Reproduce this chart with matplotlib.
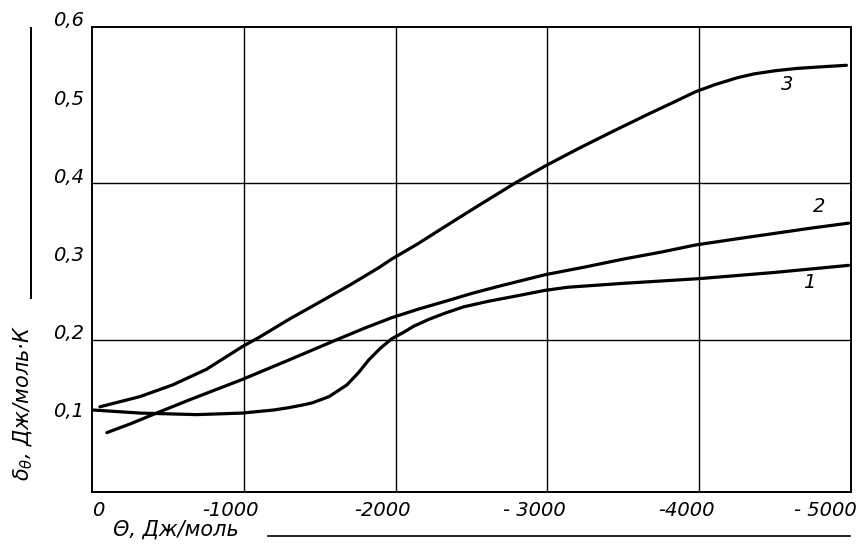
import matplotlib.pyplot as plt
from matplotlib.lines import Line2D
from matplotlib.transforms import offset_copy

# values (theta in J/mol, delta in J/(mol K))
theta_1 = [0, -315, -689, -990, -1200, -1298, -1380, -1450, -1561, -1679, -1757, -1823,
           -1900, -1974, -2050, -2118, -2220, -2328, -2450, -2610, -2800, -2984, -3134,
           -3500, -4000, -4500, -4984]
delta_1 = [0.110, 0.106, 0.104, 0.106, 0.110, 0.113, 0.116, 0.119, 0.127, 0.142, 0.158, 0.174,
           0.189, 0.201, 0.209, 0.217, 0.226, 0.234, 0.242, 0.249, 0.256, 0.263, 0.267,
           0.272, 0.278, 0.286, 0.295]

theta_2 = [-98, -250, -400, -643, -990, -1298, -1626, -1800, -1974, -2150, -2328,
           -2500, -2675, -2984, -3250, -3500, -3750, -3974, -4250, -4500, -4750, -4984]
delta_2 = [0.081, 0.092, 0.104, 0.123, 0.149, 0.174, 0.201, 0.215, 0.228, 0.239, 0.249,
           0.259, 0.268, 0.283, 0.293, 0.303, 0.312, 0.321, 0.329, 0.336, 0.343, 0.349]

theta_3 = [-52, -315, -531, -754, -990, -1102, -1298, -1500, -1700, -1889, -1974,
           -2150, -2328, -2550, -2793, -2984, -3200, -3416, -3659, -3856, -3974,
           -4100, -4250, -4361, -4500, -4643, -4800, -4970]
delta_3 = [0.114, 0.127, 0.142, 0.162, 0.191, 0.203, 0.226, 0.248, 0.270, 0.292, 0.303,
           0.323, 0.345, 0.372, 0.401, 0.422, 0.444, 0.465, 0.488, 0.506, 0.517,
           0.526, 0.535, 0.540, 0.544, 0.547, 0.549, 0.551]

curve_names = ['1', '2', '3']
name_pos = [(-4728, 0.273), (-4787, 0.370), (-4577, 0.527)]

x_ticks = [0, -1000, -2000, -3000, -4000, -5000]
x_labels = ['0', '-1000', '-2000', '- 3000', '-4000', '- 5000']
y_ticks = [0.1, 0.2, 0.3, 0.4, 0.5, 0.6]
y_labels = ['0,1', '0,2', '0,3', '0,4', '0,5', '0,6']
y_grid = [0.2, 0.4]

W, H = 859, 553
font = dict(family='DejaVu Sans', style='italic', fontsize=14)

fig = plt.figure(figsize=(W / 100, H / 100), dpi=100)
ax = fig.add_axes([92 / W, 61 / H, 759 / W, 465 / H])

for th, d in [(theta_1, delta_1), (theta_2, delta_2), (theta_3, delta_3)]:
    ax.plot(th, d, color='black', lw=2.3, solid_capstyle='round', solid_joinstyle='round')

for name, (tx, ty) in zip(curve_names, name_pos):
    ax.text(tx, ty, name, ha='center', va='center', **font)

ax.set_xlim(0, -5000)
ax.set_ylim(0.005, 0.6)
ax.set_xticks(x_ticks[1:-1])
ax.set_yticks(y_grid)
ax.tick_params(length=0, labelbottom=False, labelleft=False)
ax.grid(True, color='black', lw=1.0)
for s in ax.spines.values():
    s.set_linewidth(1.4)

xt = ax.get_xaxis_transform()
for i, (t, lab) in enumerate(zip(x_ticks, x_labels)):
    if i == 0:
        ha, dx = 'left', 0
    elif i == len(x_ticks) - 1:
        ha, dx = 'right', 6
    else:
        ha, dx = 'center', -13
    ax.text(t, 0, lab, transform=offset_copy(xt, fig=fig, x=dx, y=-19, units='dots'),
            ha=ha, va='center', **font)

yt = ax.get_yaxis_transform()
for v, lab in zip(y_ticks, y_labels):
    ax.text(0, v, lab, transform=offset_copy(yt, fig=fig, x=-8, y=6, units='dots'),
            ha='right', va='center', **font)

# axis captions with the long strokes next to them
cap = dict(font, fontsize=15)
fig.text(113 / W, 1 - 530 / H, 'Θ, Дж/моль', ha='left', va='center', **cap)
fig.add_artist(Line2D([268 / W, 850 / W], [1 - 536 / H] * 2, color='black', lw=1.2))

fig.text(23 / W, 1 - 403 / H, r'$\delta_\theta$, Дж/моль·К', rotation=90,
         ha='center', va='center', **cap)
fig.add_artist(Line2D([31 / W] * 2, [1 - 298 / H, 1 - 28 / H], color='black', lw=1.4))

fig.savefig('out.png', dpi=100)
